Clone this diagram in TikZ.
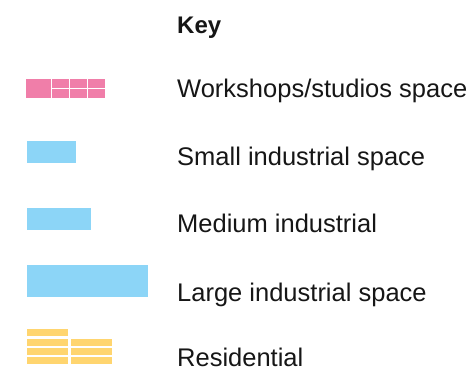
\documentclass[tikz,border=0pt]{standalone}
\usepackage{fontspec}
\setmainfont{Liberation Sans}
\definecolor{workpink}{HTML}{F07EA9}
\definecolor{indblue}{HTML}{8CD5F7}
\definecolor{resyellow}{HTML}{FFD56F}
\definecolor{keytext}{HTML}{161616}
\begin{document}
\begin{tikzpicture}[x=1pt,y=-1pt,
    keylabel/.style={anchor=base west,inner sep=0pt,text=keytext,font=\fontsize{25.5}{30}\selectfont}]
    \useasboundingbox (0,0) rectangle (471,370);

    \node[keylabel,font=\fontsize{24}{30}\selectfont\bfseries] (key) at (177,33) {Key};

    % workshops/studios
    \fill[workpink] (26,79) rectangle (51,98);
    \foreach \x in {52,70,88} \foreach \y in {79,89}
        \fill[workpink] (\x,\y) rectangle (\x+17,\y+8.5);
    \node[keylabel] (work) at (177,97) {Workshops/studios space};

    % industrial
    \fill[indblue] (27,141) rectangle (76,163);
    \node[keylabel] (small) at (177,165) {Small industrial space};
    \fill[indblue] (27,208) rectangle (91,230);
    \node[keylabel] (medium) at (177,232) {Medium industrial};
    \fill[indblue] (27,265) rectangle (148,297);
    \node[keylabel] (large) at (177,301) {Large industrial space};

    % residential
    \fill[resyellow] (27,329) rectangle (68,336);
    \foreach \y in {339,348,357} {
        \fill[resyellow] (27,\y) rectangle (68,\y+6.5);
        \fill[resyellow] (71,\y) rectangle (112,\y+6.5);
    }
    \node[keylabel] (resi) at (177,366) {Residential};
\end{tikzpicture}
\end{document}
